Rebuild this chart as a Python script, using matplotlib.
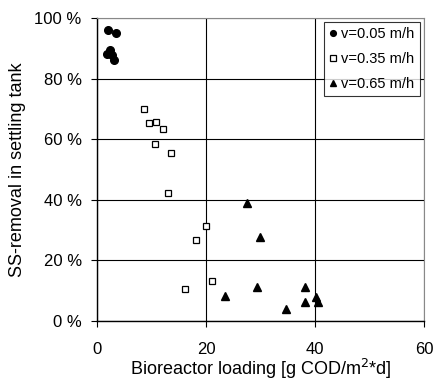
import numpy as np
import matplotlib.pyplot as plt
from matplotlib.ticker import FuncFormatter

plt.rcParams['font.family'] = ['Liberation Sans', 'DejaVu Sans']

# v = 0.05 m/h
x1 = [2.1, 3.5, 2.4, 1.9, 2.8, 3.1]
y1 = [95.9, 95.1, 89.3, 88.1, 87.8, 86.0]
# v = 0.35 m/h
x2 = [8.6, 9.6, 10.9, 12.2, 10.7, 13.5, 13.1, 20.0, 18.1, 16.2, 21.1]
y2 = [69.9, 65.3, 65.8, 63.3, 58.5, 55.5, 42.1, 31.4, 26.8, 10.5, 13.2]
# v = 0.65 m/h
x3 = [27.6, 29.9, 23.5, 29.4, 34.7, 38.2, 38.2, 40.2, 40.5]
y3 = [39.0, 27.6, 8.2, 11.2, 3.8, 11.2, 6.3, 7.9, 6.4]

fig = plt.figure(figsize=(4.33, 3.83), dpi=100)
ax = fig.add_axes([0.224, 0.162, 0.755, 0.791])

ax.plot(x1, y1, 'o', color='black', markersize=5.5, label='v=0.05 m/h', zorder=3)
ax.plot(x2, y2, 's', color='black', markerfacecolor='white', markersize=5,
        markeredgewidth=0.9, label='v=0.35 m/h', zorder=3)
ax.plot(x3, y3, '^', color='black', markersize=6, label='v=0.65 m/h', zorder=3)

ax.set_xlim(0, 60)
ax.set_ylim(0, 100)
ax.set_xticks([0, 20, 40, 60])
ax.set_yticks([0, 20, 40, 60, 80, 100])
ax.yaxis.set_major_formatter(FuncFormatter(lambda v, p: '%d %%' % v))
ax.grid(True, color='black', linewidth=0.8)
ax.set_axisbelow(True)
ax.tick_params(direction='out', length=4, width=0.8, labelsize=12)
ax.tick_params(axis='y', pad=7)
ax.tick_params(axis='x', pad=11)

for s in ['top', 'right']:
    ax.spines[s].set_color('#888888')
for s in ['left', 'bottom']:
    ax.spines[s].set_color('black')
    ax.spines[s].set_linewidth(1.0)

ax.set_xlabel(r'Bioreactor loading [g COD/m$^{2}$*d]', fontsize=13, labelpad=0)
ax.set_ylabel('SS-removal in settling tank', fontsize=13, labelpad=6)

leg = ax.legend(loc='upper right', fontsize=10.5, frameon=True, fancybox=False,
                edgecolor='black', handlelength=0.5, handletextpad=0.3,
                borderpad=0.35, labelspacing=0.75, borderaxespad=0.3,
                markerscale=0.75)
leg.get_frame().set_linewidth(0.8)

plt.savefig('out.png', dpi=100)
